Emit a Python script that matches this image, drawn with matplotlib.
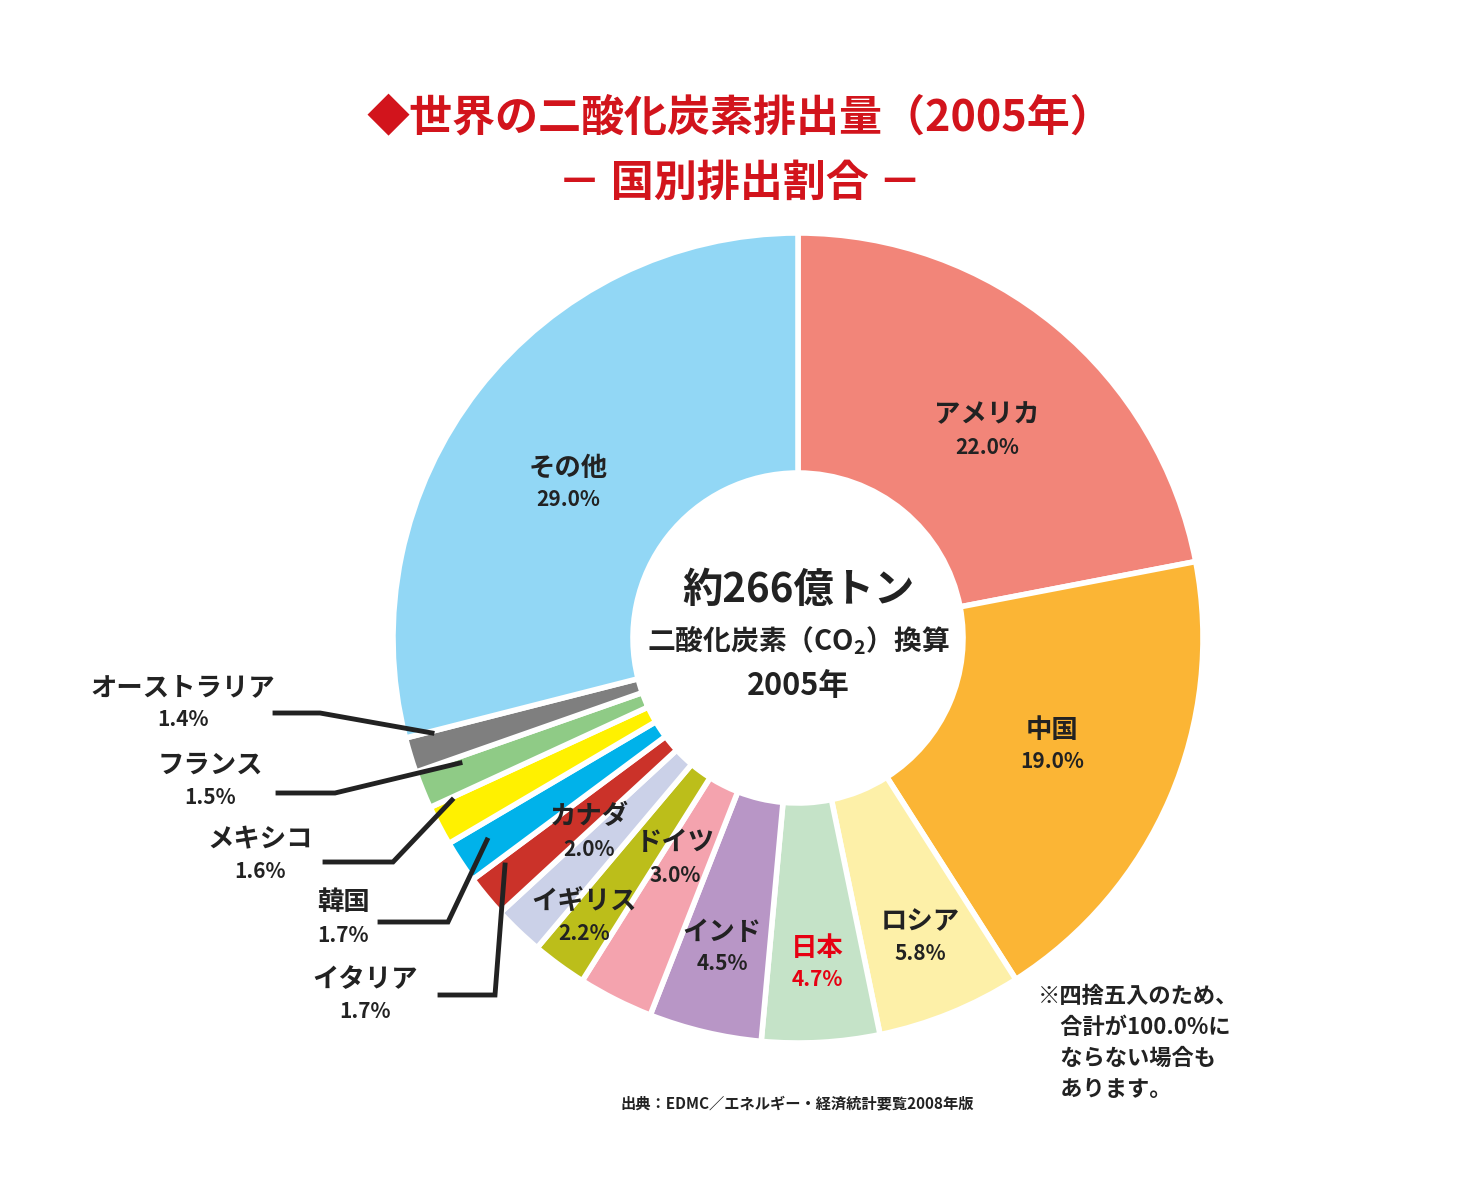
import matplotlib.pyplot as plt

plt.rcParams['font.family'] = 'Noto Sans CJK JP'
plt.rcParams['mathtext.fontset'] = 'custom'
plt.rcParams['mathtext.rm'] = 'Noto Sans CJK JP:bold'

countries = ['アメリカ', '中国', 'ロシア', '日本', 'インド', 'ドイツ', 'イギリス', 'カナダ',
             'イタリア', '韓国', 'メキシコ', 'フランス', 'オーストラリア', 'その他']
shares = [22.0, 19.0, 5.8, 4.7, 4.5, 3.0, 2.2, 2.0, 1.7, 1.7, 1.6, 1.5, 1.4, 29.0]
colors = ['#F28579', '#FBB535', '#FDF0A8', '#C5E3C8', '#B896C6', '#F4A3AE', '#BCBE1A',
          '#CBD1E8', '#CB3229', '#00B2EA', '#FFF100', '#8FCB86', '#7F7F7F', '#92D7F5']

H = 1200
fig = plt.figure(figsize=(14.63, 12), dpi=100)
ax = fig.add_axes([0, 0, 1, 1])
ax.set_xlim(0, 1463)
ax.set_ylim(0, H)
ax.set_aspect('equal')
ax.axis('off')

cx, cy, r = 798, H - 638, 405
ax.pie(shares, colors=colors, startangle=90, counterclock=False, center=(cx, cy),
       radius=r, wedgeprops=dict(width=240, edgecolor='white', linewidth=4))
ax.set_xlim(0, 1463)
ax.set_ylim(0, H)


def label(x, y, name, pct, color='#222222'):
    ax.text(x, H - y, name, ha='center', va='center', fontsize=19, fontweight='bold', color=color)
    ax.text(x, H - y - 32, pct, ha='center', va='center', fontsize=15, fontweight='bold', color=color)


# labels (pixel positions of the name line)
pos = {
    'アメリカ': (987, 415), '中国': (1052, 730), 'ロシア': (920, 922), '日本': (817, 948),
    'インド': (722, 932), 'ドイツ': (675, 843), 'イギリス': (584, 902), 'カナダ': (589, 817),
    'イタリア': (365, 980), '韓国': (343, 903), 'メキシコ': (260, 840), 'フランス': (210, 765),
    'オーストラリア': (183, 688), 'その他': (568, 468),
}
for name, val in zip(countries, shares):
    x, y = pos[name]
    label(x, y, name, f'{val:.1f}%', color='#E60012' if name == '日本' else '#222222')

# leader lines
leaders = [
    [(275, 713), (320, 713), (432, 733)],
    [(278, 793), (335, 793), (460, 763)],
    [(325, 862), (393, 862), (452, 800)],
    [(380, 922), (448, 922), (487, 840)],
    [(440, 995), (495, 995), (505, 865)],
]
for pts in leaders:
    ax.plot([p[0] for p in pts], [H - p[1] for p in pts], color='#222222', lw=3.5,
            solid_joinstyle='miter')

# center text
ax.text(cx, H - 590, '約266億トン', ha='center', va='center', fontsize=29, fontweight='bold', color='#222222')
ax.text(cx, H - 640, '二酸化炭素（CO$_2$）換算', ha='center', va='center', fontsize=20, fontweight='bold', color='#222222')
ax.text(cx, H - 686, '2005年', ha='center', va='center', fontsize=22, fontweight='bold', color='#222222')

# title
red = '#D2141C'
ax.text(740, H - 118, '◆世界の二酸化炭素排出量（2005年）', ha='center', va='center',
        fontsize=31, fontweight='bold', color=red)
ax.text(740, H - 183, '－ 国別排出割合 －', ha='center', va='center',
        fontsize=31, fontweight='bold', color=red)

# notes
ax.text(1038, H - 985, '※四捨五入のため、\n　合計が100.0%に\n　ならない場合も\n　あります。', ha='left',
        va='top', fontsize=16, fontweight='bold', color='#222222', linespacing=1.45)
ax.text(797, H - 1103, '出典：EDMC／エネルギー・経済統計要覧2008年版', ha='center', va='center',
        fontsize=11, fontweight='bold', color='#222222')

fig.savefig('out.png', dpi=100, facecolor='white')
